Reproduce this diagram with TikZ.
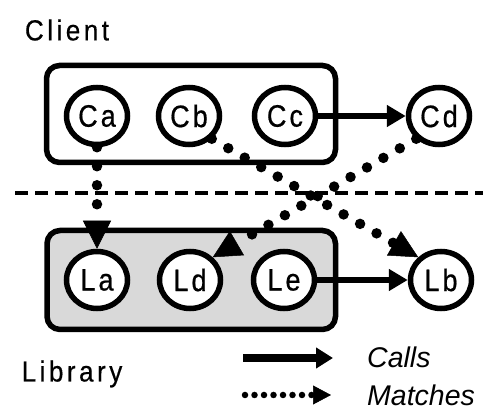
\documentclass[tikz,border=0pt]{standalone}
\usepackage{fontspec}
\setmainfont{Liberation Sans}
\newfontfamily\lsp[LetterSpace=10,FakeStretch=0.87,FakeBold=0.6]{Liberation Sans}
\newfontfamily\tsp[LetterSpace=12,FakeStretch=0.9,FakeBold=0.4]{Liberation Sans}
\usetikzlibrary{arrows.meta,shapes.geometric}
\begin{document}
\begin{tikzpicture}[x=1pt,y=-1pt,
 nd/.style={ellipse,draw,line width=5.5pt,fill=white,minimum width=61pt,minimum height=57pt,inner sep=0pt,font=\lsp\fontsize{31}{34}\selectfont},
 grp/.style={draw,line width=5.5pt,rounded corners=13pt},
 calls/.style={line width=6pt,-{Triangle[length=19pt,width=21pt]}},
 matches/.style={line width=10.5pt,line cap=round,dash pattern=on 0pt off 19pt,-{Triangle[length=28pt,width=28pt,line width=0.5pt]}},
 lcalls/.style={line width=7.5pt,-{Triangle[length=17pt,width=20pt]}},
 lmatches/.style={line width=6.5pt,line cap=round,dash pattern=on 0pt off 9.5pt,-{Triangle[length=18pt,width=19pt,line width=0.5pt]}},
 lbl/.style={font=\tsp\fontsize{29}{32}\selectfont},
 leg/.style={font=\itshape\fontsize{28.5}{32}\selectfont,anchor=west,inner sep=0pt}
]
\useasboundingbox (0,0) rectangle (483,414);
% groups
\draw[grp] (46.5,65.5) rectangle (335.5,162.5);
\draw[grp,fill=black!15] (47,230.5) rectangle (335.5,329.5);
% separator
\draw[line width=4.5pt,dash pattern=on 13pt off 7pt] (15,193) -- (483,193);
% labels
\node[lbl] (client) at (67,30) {Client};
\node[lbl] (library) at (72,374) {Library};
% nodes
\node[nd] (Ca) at (97,116) {Ca};
\node[nd] (Cb) at (189,116) {Cb};
\node[nd] (Cc) at (285,116) {Cc};
\node[nd] (Cd) at (439,116) {Cd};
\node[nd] (La) at (97,280) {La};
\node[nd] (Ld) at (190,280) {Ld};
\node[nd] (Le) at (284,280) {Le};
\node[nd] (Lb) at (441,280) {Lb};
% calls
\draw[calls] (Cc) -- (Cd);
\draw[calls] (Le) -- (Lb);
% matches
\draw[matches] (Ca.south) -- (La.north);
\draw[matches] (Cb.-45) -- (Lb.135);
\draw[matches] (Cd.-135) -- (Ld.45);
% legend
\coordinate (l1a) at (243,358);
\coordinate (l1b) at (333,358);
\coordinate (l2a) at (245,395);
\coordinate (l2b) at (331,395);
\draw[lcalls] (l1a) -- (l1b);
\draw[lmatches] (l2a) -- (l2b);
\node[leg] (callstxt) at (367,357) {Calls};
\node[leg] (matchtxt) at (367,395) {Matches};
\end{tikzpicture}
\end{document}
